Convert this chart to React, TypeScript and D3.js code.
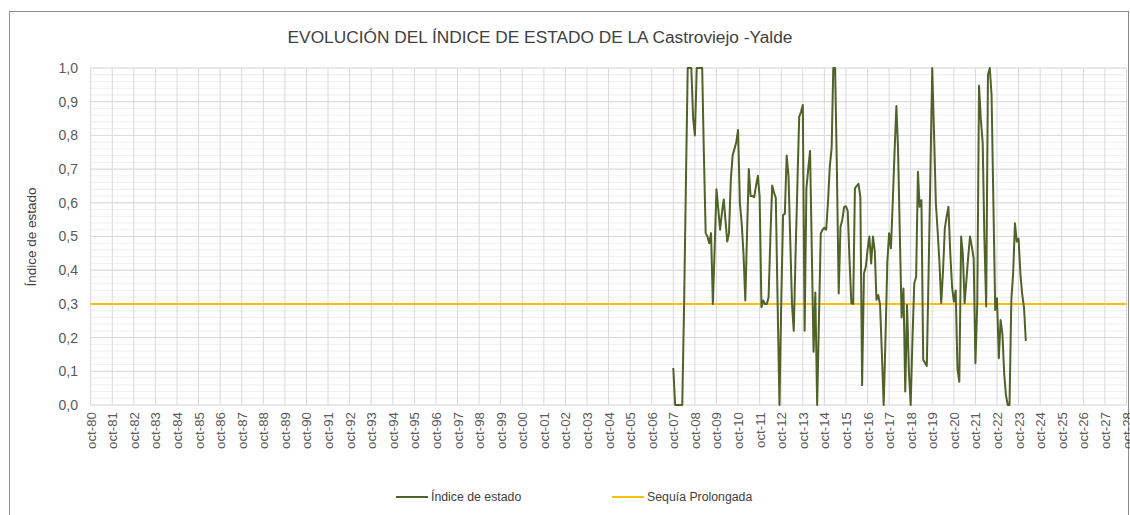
import React from "react";
import * as d3 from "d3";

const TITLE = "EVOLUCIÓN DEL ÍNDICE DE ESTADO DE LA Castroviejo -Yalde";
const Y_TITLE = "Índice de estado";
const SERIES_NAME = "Índice de estado";
const THRESHOLD_NAME = "Sequía Prolongada";
const THRESHOLD = 0.3;

// x ticks: October of every year 1980..2028
const TICK_YEARS = d3.range(1980, 2029);
const TICK_LABELS = TICK_YEARS.map((y) => "oct-" + String(y % 100).padStart(2, "0"));
const Y_TICKS = [0, 0.1, 0.2, 0.3, 0.4, 0.5, 0.6, 0.7, 0.8, 0.9, 1.0];

// monthly values starting October 2007 (one row per hydrological year, Oct..Sep)
const START = new Date(2007, 9, 1);
const Y2007 = [0.11, 0, 0, 0, 0, 0, 0.3, 0.65, 1.0, 1.0, 1.0, 0.85];
const Y2008 = [0.8, 1.0, 1.0, 1.0, 1.0, 0.75, 0.51, 0.5, 0.48, 0.51, 0.3, 0.47];
const Y2009 = [0.64, 0.58, 0.52, 0.57, 0.61, 0.55, 0.485, 0.51, 0.67, 0.74, 0.76, 0.78];
const Y2010 = [0.816, 0.6, 0.54, 0.45, 0.31, 0.5, 0.7, 0.62, 0.62, 0.617, 0.65, 0.68];
const Y2011 = [0.62, 0.29, 0.31, 0.3, 0.3, 0.32, 0.5, 0.651, 0.63, 0.615, 0.3, 0.0];
const Y2012 = [0.3, 0.564, 0.567, 0.74, 0.68, 0.5, 0.3, 0.22, 0.45, 0.65, 0.855, 0.87];
const Y2013 = [0.89, 0.22, 0.643, 0.7, 0.754, 0.47, 0.158, 0.334, 0.0, 0.25, 0.509, 0.52];
const Y2014 = [0.526, 0.52, 0.6, 0.707, 0.762, 1.0, 1.0, 0.7, 0.331, 0.529, 0.55, 0.588];
const Y2015 = [0.59, 0.575, 0.43, 0.302, 0.3, 0.643, 0.65, 0.656, 0.617, 0.059, 0.39, 0.41];
const Y2016 = [0.46, 0.5, 0.42, 0.5, 0.455, 0.312, 0.326, 0.297, 0.15, 0.0, 0.2, 0.425];
const Y2017 = [0.51, 0.465, 0.6, 0.75, 0.887, 0.76, 0.5, 0.26, 0.346, 0.04, 0.297, 0.1];
const Y2018 = [0.0, 0.2, 0.361, 0.38, 0.692, 0.588, 0.608, 0.134, 0.125, 0.116, 0.4, 0.7];
const Y2019 = [1.0, 0.8, 0.6, 0.514, 0.42, 0.302, 0.4, 0.524, 0.56, 0.588, 0.45, 0.35];
const Y2020 = [0.307, 0.34, 0.109, 0.069, 0.5, 0.45, 0.302, 0.37, 0.44, 0.5, 0.47, 0.435];
const Y2021 = [0.124, 0.3, 0.947, 0.846, 0.777, 0.5, 0.292, 0.98, 1.0, 0.92, 0.6, 0.282];
const Y2022 = [0.317, 0.139, 0.252, 0.21, 0.089, 0.03, 0.0, 0.0, 0.312, 0.39, 0.539, 0.485];
const Y2023 = [0.494, 0.39, 0.33, 0.29, 0.19];

const VALUES = [
  ...Y2007, ...Y2008, ...Y2009, ...Y2010, ...Y2011, ...Y2012, ...Y2013, ...Y2014,
  ...Y2015, ...Y2016, ...Y2017, ...Y2018, ...Y2019, ...Y2020, ...Y2021, ...Y2022, ...Y2023,
];

const FONT = "'Liberation Sans', Arial, sans-serif";

export default function App() {
  const W = 1130;
  const H = 515;
  const left = 90.7;
  const right = 1126.5;
  const top = 68;
  const bottom = 405;

  const x = d3
    .scaleTime()
    .domain([new Date(1980, 9, 1), new Date(2028, 9, 1)])
    .range([left, right]);
  const y = d3.scaleLinear().domain([0, 1]).range([bottom, top]);

  const data = VALUES.map((v, i) => ({ date: d3.timeMonth.offset(START, i), v }));
  const line = d3
    .line<{ date: Date; v: number }>()
    .x((d) => x(d.date))
    .y((d) => y(d.v));

  const minor = d3.range(0, 1.0001, 0.02);

  return (
    <svg
      width={W}
      height={H}
      style={{ position: "absolute", left: 0, top: 0, background: "#fff" }}
      fontFamily={FONT}
    >
      <rect x={0} y={0} width={W} height={H} fill="#fff" />
      <rect x={9.5} y={11.5} width={1119} height={520} fill="none" stroke="#8c8c8c" strokeWidth={1} />
      <text x={540} y={43} textAnchor="middle" fontSize={17.3} fill="#404040">
        {TITLE}
      </text>

      {/* minor horizontal grid */}
      {minor.map((t, i) => (
        <line key={"m" + i} x1={left} x2={right} y1={y(t)} y2={y(t)} stroke="#efefef" strokeWidth={1} />
      ))}
      {/* major horizontal grid */}
      {Y_TICKS.map((t, i) => (
        <line key={"h" + i} x1={left} x2={right} y1={y(t)} y2={y(t)} stroke="#d9d9d9" strokeWidth={1} />
      ))}
      {/* vertical grid */}
      {TICK_YEARS.map((yr, i) => {
        const xx = x(new Date(yr, 9, 1));
        return <line key={"v" + i} x1={xx} x2={xx} y1={top} y2={bottom} stroke="#d9d9d9" strokeWidth={1} />;
      })}

      {/* y tick labels */}
      {Y_TICKS.map((t, i) => (
        <text key={"yl" + i} x={78} y={y(t)} dy="0.35em" textAnchor="end" fontSize={14} fill="#595959">
          {d3.format(".1f")(t).replace(".", ",")}
        </text>
      ))}
      {/* x tick labels */}
      {TICK_YEARS.map((yr, i) => {
        const xx = x(new Date(yr, 9, 1)) + 5;
        return (
          <text
            key={"xl" + i}
            transform={`translate(${xx},${412}) rotate(-90)`}
            textAnchor="end"
            fontSize={13.3}
            fill="#595959"
          >
            {TICK_LABELS[i]}
          </text>
        );
      })}

      <text
        transform={`translate(36,${237}) rotate(-90)`}
        textAnchor="middle"
        fontSize={13.5}
        fill="#404040"
      >
        {Y_TITLE}
      </text>

      {/* threshold */}
      <line x1={left} x2={right} y1={y(THRESHOLD)} y2={y(THRESHOLD)} stroke="#FFC000" strokeWidth={2} />
      {/* index line */}
      <path d={line(data) || ""} fill="none" stroke="#4F6228" strokeWidth={2} strokeLinejoin="round" />

      {/* legend */}
      <line x1={396} x2={428} y1={497} y2={497} stroke="#4F6228" strokeWidth={2} />
      <text x={431} y={497} dy="0.35em" fontSize={12.3} fill="#404040">
        {SERIES_NAME}
      </text>
      <line x1={612} x2={644} y1={497} y2={497} stroke="#FFC000" strokeWidth={2} />
      <text x={647} y={497} dy="0.35em" fontSize={12.3} fill="#404040">
        {THRESHOLD_NAME}
      </text>
    </svg>
  );
}
